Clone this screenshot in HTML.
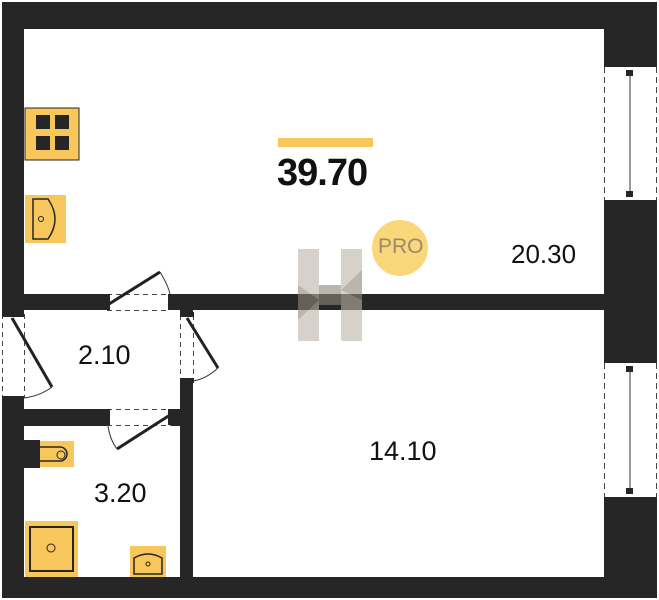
<!DOCTYPE html>
<html><head><style>
body{margin:0;width:659px;height:600px;background:#fff;overflow:hidden;position:relative;font-family:"Liberation Sans",sans-serif}
.a{position:absolute}
.t{position:absolute;color:#111;font-size:26px}
</style></head><body>
<svg class="a" style="left:0;top:0" width="659" height="600">
<rect x="2" y="2" width="655" height="596" fill="#262626"/>
<rect x="24" y="29" width="580" height="265" fill="#fff"/>
<rect x="193" y="310" width="411" height="267" fill="#fff"/>
<rect x="24" y="310" width="156" height="99" fill="#fff"/>
<rect x="24" y="426" width="156" height="151" fill="#fff"/>
<rect x="604" y="67" width="53" height="133" fill="#fff"/>
<rect x="604" y="363" width="53" height="134" fill="#fff"/>
<g stroke="#444" stroke-width="1" stroke-dasharray="6,4" fill="none">
<line x1="604.5" y1="67" x2="604.5" y2="200"/><line x1="656.5" y1="67" x2="656.5" y2="200"/>
<line x1="604.5" y1="363" x2="604.5" y2="497"/><line x1="656.5" y1="363" x2="656.5" y2="497"/>
</g>
<line x1="630" y1="70" x2="630" y2="197" stroke="#333"/>
<line x1="630" y1="366" x2="630" y2="494" stroke="#333"/>
<rect x="626" y="70" width="7" height="6" fill="#262626"/><rect x="626" y="191" width="7" height="6" fill="#262626"/>
<rect x="626" y="366" width="7" height="6" fill="#262626"/><rect x="626" y="488" width="7" height="6" fill="#262626"/>
<rect x="2" y="314" width="22" height="84" fill="#fff"/>
<rect x="107" y="294" width="63" height="16" fill="#fff"/>
<rect x="180" y="315" width="13" height="66" fill="#fff"/>
<rect x="107" y="409" width="65" height="17" fill="#fff"/>
<g stroke="#444" stroke-dasharray="5,4" fill="none">
<line x1="2.5" y1="314" x2="2.5" y2="398"/><line x1="24.5" y1="314" x2="24.5" y2="398"/>
<line x1="107" y1="294.5" x2="170" y2="294.5"/><line x1="107" y1="310.5" x2="170" y2="310.5"/>
<line x1="180.5" y1="315" x2="180.5" y2="381"/><line x1="193.5" y1="315" x2="193.5" y2="381"/>
<line x1="107" y1="409.5" x2="172" y2="409.5"/><line x1="107" y1="425.5" x2="172" y2="425.5"/>
</g>
<g fill="#262626"><rect x="2" y="312" width="22" height="5"/><rect x="2" y="396" width="22" height="6"/>
<rect x="104" y="294" width="6" height="16"/><rect x="168" y="294" width="6" height="16"/>
<rect x="180" y="312" width="14" height="5"/><rect x="180" y="378" width="14" height="5"/>
<rect x="104" y="409" width="6" height="16"/><rect x="168" y="409" width="6" height="16"/></g>
<g stroke="#222" stroke-width="3"><line x1="12" y1="318" x2="52" y2="387"/><line x1="109" y1="304" x2="160" y2="272"/>
<line x1="187" y1="318" x2="218" y2="368"/><line x1="117" y1="449" x2="170" y2="415"/></g>
<g stroke="#333" fill="none"><path d="M52 387 Q40 396 24 398"/><path d="M160 272 Q168 285 170 294"/>
<path d="M218 368 Q206 379 193 381"/><path d="M117 449 Q110 440 108 426"/></g>
<rect x="25" y="108" width="54" height="52" fill="#f7c75c" stroke="#262626" stroke-width="1"/>
<g fill="#262626"><rect x="36" y="115" width="14" height="14"/><rect x="55" y="115" width="14" height="14"/><rect x="36" y="136" width="14" height="14"/><rect x="55" y="136" width="14" height="14"/></g>
<rect x="25" y="195" width="41" height="48" fill="#f7c75c"/>
<path d="M33 199 H48 Q62 219 48 239 H33 Z" fill="none" stroke="#262626" stroke-width="1.5"/><circle cx="41" cy="219" r="2.5" fill="none" stroke="#262626"/>
<rect x="24" y="440" width="16" height="28" fill="#262626"/>
<rect x="40" y="441" width="34" height="26" fill="#f7c75c"/>
<path d="M40 447 H60 A7 7 0 0 1 60 461 H40" fill="none" stroke="#262626" stroke-width="1.5"/><circle cx="61" cy="455" r="4" fill="none" stroke="#262626"/>
<rect x="25" y="521" width="53" height="56" fill="#f7c75c"/>
<rect x="30" y="527" width="43" height="44" fill="none" stroke="#262626" stroke-width="2"/><circle cx="51" cy="548" r="4" fill="none" stroke="#262626"/>
<rect x="130" y="546" width="36" height="31" fill="#f7c75c"/>
<path d="M134 574 V558 Q148 550 162 558 V574 Z" fill="none" stroke="#262626" stroke-width="1.5"/><circle cx="148" cy="564" r="2" fill="none" stroke="#262626"/>
<g opacity="0.6"><rect x="298" y="249" width="21" height="92" fill="#bbb4aa"/><rect x="341" y="249" width="21" height="92" fill="#bbb4aa"/>
<rect x="319" y="285" width="22" height="20" fill="#8f8578"/><polygon points="298,285 319,300 298,320" fill="#8f8578"/><polygon points="362,270 341,290 362,300" fill="#8f8578"/></g>
<rect x="278" y="138" width="95" height="9" fill="#f7c75c"/>
<circle cx="400" cy="248" r="28" fill="#f9d77a"/>
</svg>
<div class="t" style="left:277px;top:152px;font-size:38px;font-weight:bold;letter-spacing:-1px">39.70</div>
<div class="a" style="left:378px;top:235px;font-size:21px;color:#9a8a6a">PRO</div>
<div class="t" style="left:511px;top:239px">20.30</div>
<div class="t" style="left:369px;top:436px;font-size:27px">14.10</div>
<div class="t" style="left:78px;top:340px;font-size:27px">2.10</div>
<div class="t" style="left:94px;top:478px;font-size:27px">3.20</div>
</body></html>
